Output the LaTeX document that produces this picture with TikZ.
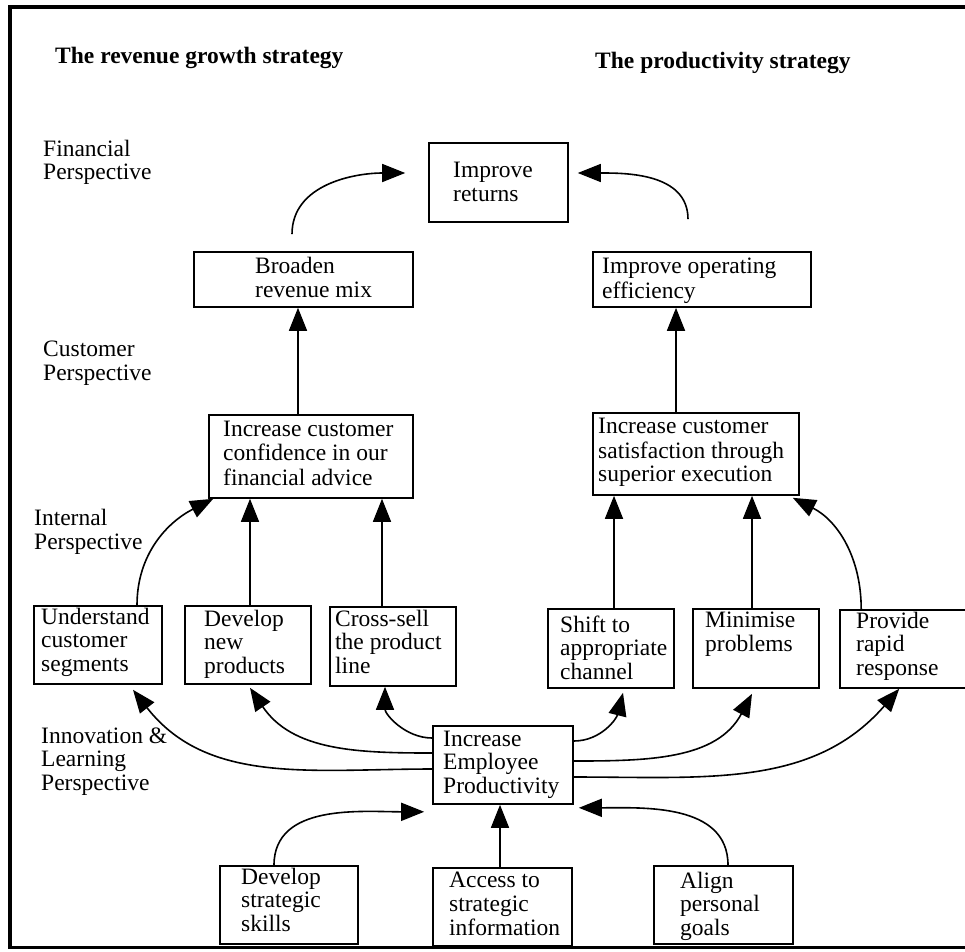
\documentclass[tikz,border=0pt]{standalone}
\usepackage{fontspec}
\setmainfont{Liberation Serif}
\usetikzlibrary{arrows.meta}
\begin{document}
\begin{tikzpicture}[x=1pt,y=1pt,
  box/.style={draw, line width=1.6pt, inner sep=0pt},
  txt/.style={anchor=west, align=left, inner sep=0pt, font=\fontsize{23.5}{23.5}\selectfont},
  ttl/.style={anchor=base west, inner sep=0pt, font=\fontsize{23.5}{23.5}\selectfont\bfseries},
  arr/.style={draw, line width=1.6pt, -{Triangle[length=23pt,width=18pt]}}]
\clip (0,0) rectangle (965,-951);
\fill[white] (0,0) rectangle (965,-951);
% frame
\draw[line width=4.5pt] (10,-947) -- (10,-7) -- (990,-7);
\draw[line width=3pt] (8,-947) -- (990,-947);
% titles
\node[ttl] (t1) at (55,-63) {The revenue growth strategy};
\node[ttl] (t2) at (595,-68) {The productivity strategy};
% perspective labels
\node[txt] (lf) at (43,-163.5) {\strut Financial\\\strut Perspective};
\node[txt] (lc) at (43,-364) {\strut Customer\\\strut Perspective};
\node[txt] (li) at (34,-533) {\strut Internal\\\strut Perspective};
\node[txt] (ll) at (41,-762) {\strut Innovation \&\\\strut Learning\\\strut Perspective};
% boxes
\node[box, minimum width=139pt, minimum height=79pt] (ret) at (498.5,-182.5) {};
\node[box, minimum width=219pt, minimum height=55pt] (brd) at (303.5,-279.5) {};
\node[box, minimum width=218pt, minimum height=55pt] (eff) at (702,-279.5) {};
\node[box, minimum width=204pt, minimum height=83pt] (conf) at (311,-456.5) {};
\node[box, minimum width=206pt, minimum height=82pt] (sat) at (696,-454) {};
\node[box, minimum width=128pt, minimum height=78pt] (und) at (98,-645) {};
\node[box, minimum width=126pt, minimum height=78pt] (dev) at (248,-645) {};
\node[box, minimum width=126pt, minimum height=79pt] (crs) at (393,-646.5) {};
\node[box, minimum width=126pt, minimum height=79pt] (shf) at (611,-648.5) {};
\node[box, minimum width=126pt, minimum height=79pt] (mnm) at (756,-648.5) {};
\node[box, minimum width=150pt, minimum height=78pt] (prv) at (915,-649) {};
\node[box, minimum width=140pt, minimum height=78pt] (emp) at (503,-765) {};
\node[box, minimum width=138pt, minimum height=78pt] (skl) at (289,-905) {};
\node[box, minimum width=139pt, minimum height=78pt] (acc) at (502.5,-907) {};
\node[box, minimum width=139pt, minimum height=78pt] (aln) at (723.5,-905) {};
% box texts
\node[txt] (ret-t) at (453,-185) {\strut Improve\\\strut returns};
\node[txt] (brd-t) at (255,-281) {\strut Broaden\\\strut revenue mix};
\node[txt] (eff-t) at (602,-281) {\strut Improve operating\\\strut efficiency};
\node[txt] (conf-t) at (223,-456) {\strut Increase customer\\\strut confidence in our\\\strut financial advice};
\node[txt] (sat-t) at (598,-453) {\strut Increase customer\\\strut satisfaction through\\\strut superior execution};
\node[txt] (und-t) at (41,-643) {\strut Understand\\\strut customer\\\strut segments};
\node[txt] (dev-t) at (204,-645) {\strut Develop\\\strut new\\\strut products};
\node[txt] (crs-t) at (335,-645) {\strut Cross-sell\\\strut the product\\\strut line};
\node[txt] (shf-t) at (560,-651) {\strut Shift to\\\strut appropriate\\\strut channel};
\node[txt] (mnm-t) at (705,-635) {\strut Minimise\\\strut problems};
\node[txt] (prv-t) at (856,-647) {\strut Provide\\\strut rapid\\\strut response};
\node[txt] (emp-t) at (443,-765) {\strut Increase\\\strut Employee\\\strut Productivity};
\node[txt] (skl-t) at (241,-903) {\strut Develop\\\strut strategic\\\strut skills};
\node[txt] (acc-t) at (449,-907) {\strut Access to\\\strut strategic\\\strut information};
\node[txt] (aln-t) at (680,-907) {\strut Align\\\strut personal\\\strut goals};
% straight arrows
\draw[arr] ([xshift=-13pt]conf.north) -- ([xshift=-13pt]conf.north |- brd.south);
\draw[arr] ([xshift=-20pt]sat.north) -- ([xshift=-20pt]sat.north |- eff.south);
\draw[arr] ([xshift=2pt]dev.north) -- ([xshift=2pt]dev.north |- conf.south);
\draw[arr] ([xshift=-11pt]crs.north) -- ([xshift=-11pt]crs.north |- conf.south);
\draw[arr] ([xshift=3pt]shf.north) -- ([xshift=3pt]shf.north |- sat.south);
\draw[arr] ([xshift=-4pt]mnm.north) -- ([xshift=-4pt]mnm.north |- sat.south);
\draw[arr] ([xshift=-2.5pt]acc.north) -- ([xshift=-2.5pt]acc.north |- emp.south);
% curved arrows
\draw[arr] ([xshift=-11.5pt,yshift=17pt]brd.north) to[out=90,in=180] ([xshift=-23pt,yshift=9.5pt]ret.west);
\draw[arr] ([xshift=-14pt,yshift=32pt]eff.north) to[out=90,in=0] ([xshift=9pt,yshift=9.5pt]ret.east);
\draw[arr] ([xshift=39pt]und.north) to[out=90,in=207] ([xshift=5pt]conf.south west);
\draw[arr] ([xshift=22pt]prv.north west) to[out=90,in=333] ([xshift=-7pt,yshift=-2pt]sat.south east);
\draw[arr] ([yshift=-4pt]emp.west) to[out=180,in=308] ([xshift=35pt,yshift=-5pt]und.south);
\draw[arr] ([yshift=12pt]emp.west) to[out=180,in=304] ([xshift=2pt,yshift=-3pt]dev.south);
\draw[arr] ([yshift=27pt]emp.west) to[out=180,in=270] ([xshift=-8pt]crs.south);
\draw[arr] ([yshift=24pt]emp.east) to[out=0,in=256] ([xshift=12pt,yshift=-4pt]shf.south);
\draw[arr] ([yshift=4pt]emp.east) to[out=0,in=242] ([xshift=-4pt,yshift=-5pt]mnm.south);
\draw[arr] ([yshift=-12pt]emp.east) to[out=0,in=229] ([xshift=60pt]prv.south west);
\draw[arr] ([xshift=-15pt]skl.north) to[out=90,in=180] ([xshift=-8pt,yshift=-7pt]emp.south west);
\draw[arr] ([xshift=4.5pt]aln.north) to[out=90,in=0] ([xshift=5pt,yshift=-3pt]emp.south east);
\end{tikzpicture}
\end{document}
